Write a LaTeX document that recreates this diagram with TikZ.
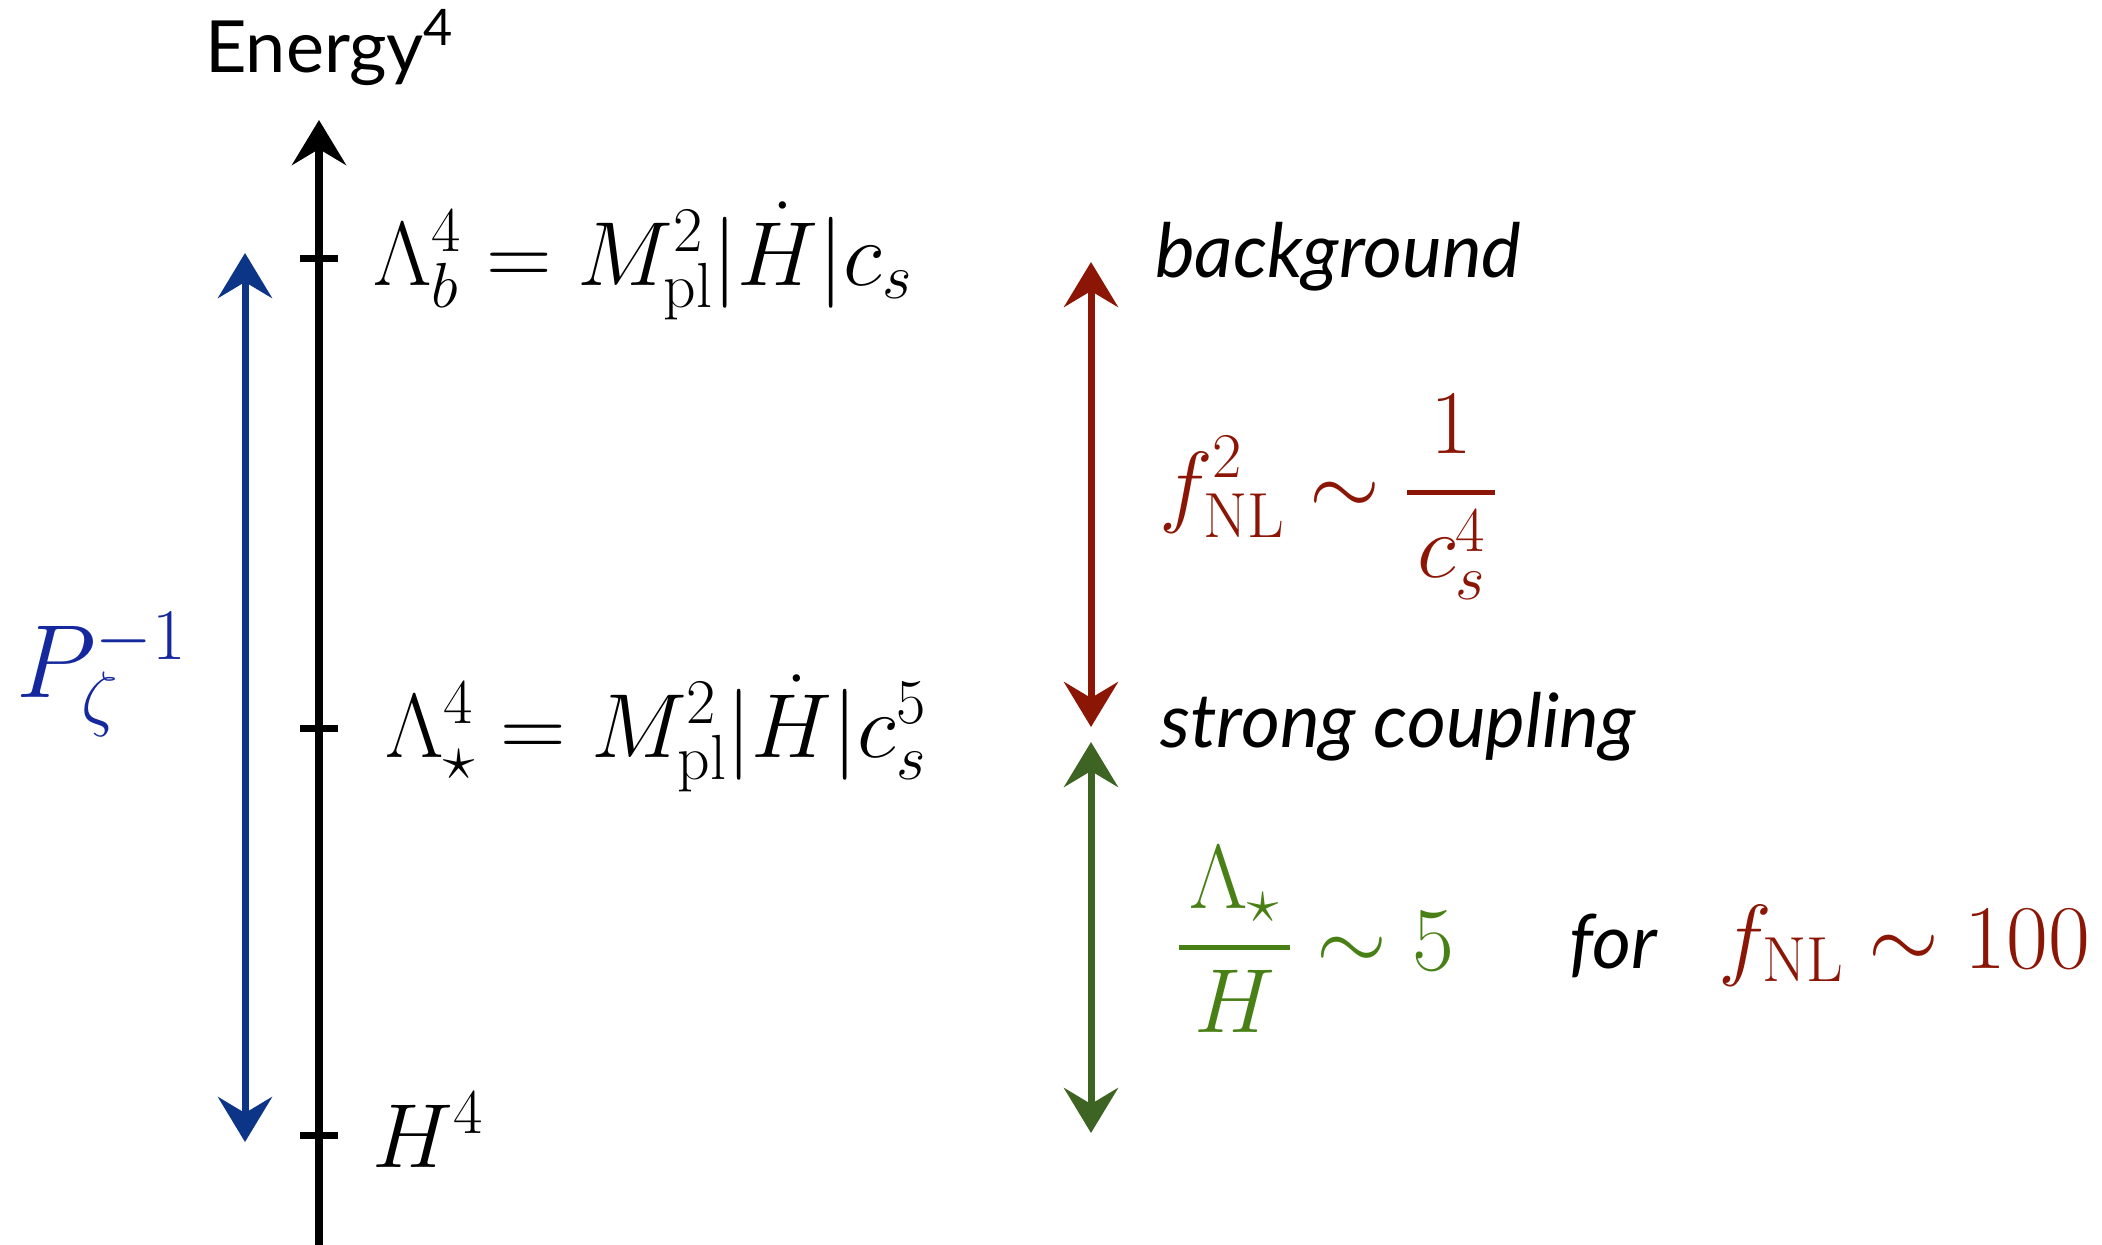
\RequirePackage{fix-cm}
\documentclass[tikz,border=0pt]{standalone}
\usepackage{amsmath}
\usepackage{fontspec}
\newfontfamily\gill{Lato}
\usetikzlibrary{arrows.meta}
\definecolor{bluearr}{RGB}{12,52,135}
\definecolor{bluetxt}{RGB}{22,40,158}
\definecolor{redc}{RGB}{140,22,6}
\definecolor{greenarr}{RGB}{62,100,36}
\definecolor{greentxt}{RGB}{72,128,22}
\newcommand{\thkfrac}[2]{\genfrac{}{}{4.5pt}{0}{\mkern2mu#1\mkern2mu}{\mkern2mu#2\mkern2mu}}
\tikzset{
  hd/.tip={Stealth[length=45pt,width=54pt,inset=16pt]},
  axisline/.style={line width=8pt,draw=black},
  rangearr/.style={line width=7pt},
  tickmark/.style={fill=black,minimum width=38pt,minimum height=7pt,inner sep=0pt,draw=none},
  mathlbl/.style={inner sep=0pt,anchor=base west,font=\fontsize{91}{105}\selectfont},
  sanslbl/.style={inner sep=0pt,anchor=base west,font=\gill\fontsize{72}{86}\selectfont},
  itlbl/.style={inner sep=0pt,anchor=base west,font=\gill\itshape\fontsize{75}{90}\selectfont},
}
\begin{document}
\begin{tikzpicture}[x=1pt,y=-1pt]
\useasboundingbox (0,0) rectangle (2102,1245);
% axis
\coordinate (axB) at (319,1245);
\coordinate (axT) at (319,120);
\draw[axisline,-hd] (axB) -- (axT);
\node[tickmark] (tb) at (319,258) {};
\node[tickmark] (ts) at (319,728) {};
\node[tickmark] (th) at (319,1135) {};
\node[sanslbl] (energy) at (205,72) {Energy\textsuperscript{4}};
% labels on axis
\node[mathlbl] (lb) at (373,285) {$\Lambda_b^4 = M_{\rm pl}^2|\dot H|c_s$};
\node[mathlbl] (ls) at (385,757) {$\Lambda_\star^4 = M_{\rm pl}^2|\dot H|c_s^5$};
\node[mathlbl] (lh) at (372,1167) {$H^4$};
% blue arrow
\coordinate (bT) at (245,253);
\coordinate (bB) at (245,1142);
\draw[rangearr,bluearr,hd-hd] (bB) -- (bT);
\node[inner sep=0pt,anchor=base west,text=bluetxt,font=\fontsize{104}{120}\selectfont] (pz) at (16,697) {$P_\zeta^{-1}$};
% red arrow
\coordinate (rT) at (1091,262);
\coordinate (rB) at (1091,727);
\draw[rangearr,redc,hd-hd] (rB) -- (rT);
% green arrow
\coordinate (gT) at (1091,742);
\coordinate (gB) at (1091,1133);
\draw[rangearr,greenarr,hd-hd] (gB) -- (gT);
% right labels
\node[itlbl] (bg) at (1155,277) {background};
\node[itlbl] (sc) at (1160,747) {strong coupling};
\node[mathlbl,text=redc] (fnl2) at (1159,515) {$\displaystyle f_{\rm NL}^2\sim\thkfrac{1}{c_s^4}$};
\node[mathlbl,text=greentxt] (lam) at (1178,970) {$\displaystyle \thkfrac{\Lambda_\star}{H}\sim 5$};
\node[itlbl] (for) at (1569,968) {for};
\node[mathlbl,text=redc] (fnl) at (1718,968) {$f_{\rm NL}\sim 100$};
\end{tikzpicture}
\end{document}
